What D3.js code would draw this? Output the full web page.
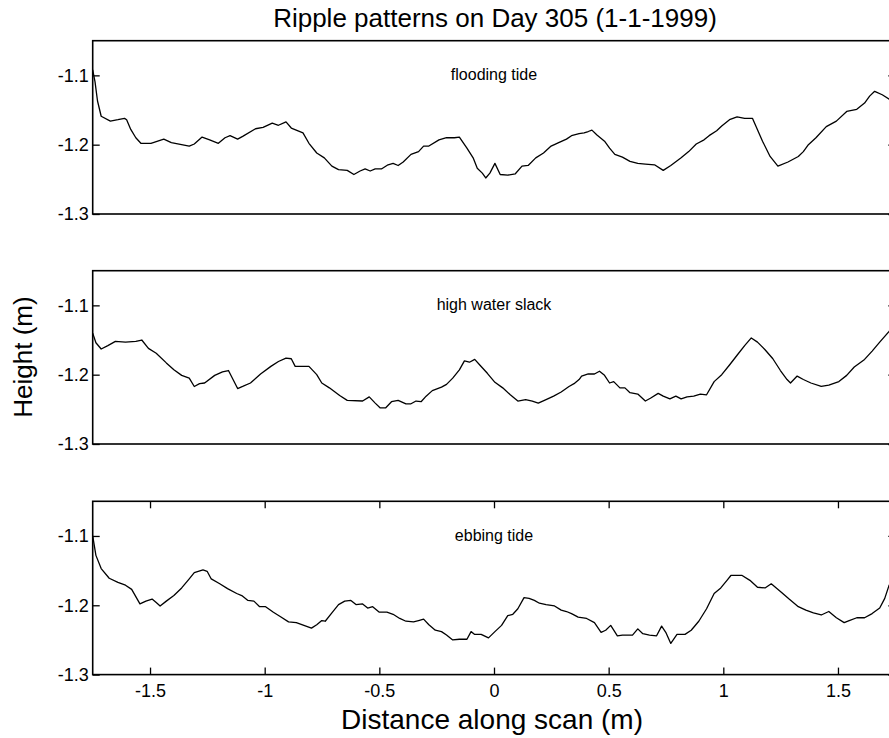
<!DOCTYPE html>
<html>
<head>
<meta charset="utf-8">
<script src="https://cdn.jsdelivr.net/npm/d3@7"></script>
<style>
  body { margin: 0; background: #fff; }
  svg { display: block; }
  text { font-family: "Liberation Sans", Arial, Helvetica, sans-serif; fill: #000; }
</style>
</head>
<body>
<div id="chart"></div>
<script>
// profile readings (distance in m, height in m)
var floodDist = [-1.75,-1.74,-1.729,-1.713,-1.673,-1.64,-1.611,-1.602,-1.584,-1.562,-1.54,-1.496,-1.44,-1.407,-1.329,-1.307,-1.273,-1.24,-1.202,-1.173,-1.151,-1.118,-1.096,-1.04,-1.007,-0.967,-0.94,-0.907,-0.884,-0.833,-0.807,-0.773,-0.74,-0.707,-0.678,-0.64,-0.611,-0.584,-0.562,-0.54,-0.518,-0.491,-0.462,-0.44,-0.418,-0.396,-0.362,-0.329,-0.307,-0.284,-0.24,-0.207,-0.173,-0.151,-0.118,-0.091,-0.073,-0.051,-0.036,-0.018,0.004,0.027,0.06,0.093,0.122,0.149,0.182,0.216,0.249,0.282,0.316,0.338,0.371,0.393,0.411,0.427,0.449,0.482,0.504,0.527,0.56,0.593,0.627,0.66,0.7,0.738,0.771,0.816,0.849,0.882,0.916,0.938,0.971,0.993,1.027,1.06,1.093,1.127,1.171,1.204,1.238,1.282,1.327,1.349,1.371,1.404,1.449,1.493,1.538,1.582,1.616,1.638,1.66,1.693,1.722,1.75];
var floodHeight = [-1.092,-1.109,-1.137,-1.159,-1.166,-1.164,-1.162,-1.164,-1.178,-1.19,-1.198,-1.198,-1.192,-1.197,-1.202,-1.199,-1.189,-1.193,-1.198,-1.19,-1.187,-1.192,-1.188,-1.177,-1.175,-1.169,-1.172,-1.167,-1.176,-1.183,-1.198,-1.212,-1.219,-1.231,-1.236,-1.237,-1.243,-1.238,-1.235,-1.238,-1.235,-1.235,-1.229,-1.227,-1.23,-1.225,-1.214,-1.21,-1.202,-1.202,-1.193,-1.19,-1.19,-1.189,-1.205,-1.219,-1.234,-1.241,-1.248,-1.241,-1.227,-1.243,-1.244,-1.242,-1.231,-1.23,-1.219,-1.212,-1.202,-1.197,-1.192,-1.187,-1.184,-1.183,-1.181,-1.179,-1.186,-1.195,-1.205,-1.214,-1.218,-1.224,-1.227,-1.228,-1.229,-1.237,-1.23,-1.219,-1.21,-1.199,-1.193,-1.187,-1.18,-1.173,-1.164,-1.16,-1.162,-1.162,-1.195,-1.217,-1.231,-1.225,-1.217,-1.21,-1.2,-1.19,-1.174,-1.166,-1.152,-1.149,-1.14,-1.13,-1.123,-1.128,-1.134,-1.142];

var slackDist = [-1.75,-1.736,-1.713,-1.684,-1.651,-1.607,-1.562,-1.536,-1.507,-1.473,-1.429,-1.396,-1.362,-1.329,-1.307,-1.284,-1.262,-1.218,-1.184,-1.158,-1.118,-1.096,-1.062,-1.018,-0.973,-0.94,-0.907,-0.884,-0.867,-0.807,-0.773,-0.751,-0.718,-0.673,-0.64,-0.573,-0.544,-0.518,-0.496,-0.473,-0.447,-0.418,-0.384,-0.362,-0.34,-0.318,-0.296,-0.269,-0.229,-0.207,-0.18,-0.151,-0.129,-0.107,-0.084,-0.062,-0.029,0.004,0.038,0.071,0.104,0.138,0.167,0.193,0.227,0.26,0.293,0.327,0.349,0.371,0.382,0.411,0.438,0.46,0.482,0.504,0.522,0.549,0.571,0.593,0.627,0.66,0.682,0.716,0.738,0.767,0.793,0.816,0.842,0.871,0.9,0.927,0.96,0.993,1.027,1.06,1.093,1.122,1.149,1.182,1.216,1.249,1.278,1.293,1.322,1.349,1.382,1.427,1.46,1.504,1.538,1.571,1.616,1.649,1.682,1.722,1.75];
var slackHeight = [-1.14,-1.154,-1.163,-1.158,-1.152,-1.153,-1.152,-1.15,-1.162,-1.169,-1.183,-1.193,-1.201,-1.205,-1.217,-1.213,-1.212,-1.201,-1.196,-1.194,-1.22,-1.217,-1.212,-1.199,-1.188,-1.181,-1.176,-1.177,-1.188,-1.188,-1.2,-1.212,-1.219,-1.23,-1.237,-1.238,-1.232,-1.241,-1.248,-1.248,-1.239,-1.237,-1.242,-1.242,-1.238,-1.239,-1.231,-1.223,-1.218,-1.214,-1.205,-1.193,-1.18,-1.182,-1.178,-1.186,-1.198,-1.211,-1.219,-1.229,-1.238,-1.236,-1.238,-1.241,-1.236,-1.231,-1.225,-1.217,-1.213,-1.207,-1.202,-1.199,-1.199,-1.195,-1.201,-1.212,-1.21,-1.219,-1.219,-1.226,-1.228,-1.238,-1.234,-1.227,-1.231,-1.235,-1.231,-1.235,-1.232,-1.231,-1.228,-1.229,-1.21,-1.2,-1.186,-1.172,-1.158,-1.147,-1.153,-1.164,-1.177,-1.194,-1.207,-1.212,-1.202,-1.207,-1.212,-1.217,-1.215,-1.21,-1.201,-1.189,-1.178,-1.166,-1.153,-1.138,-1.126];

var ebbDist = [-1.75,-1.736,-1.713,-1.678,-1.64,-1.607,-1.58,-1.544,-1.518,-1.491,-1.473,-1.456,-1.429,-1.396,-1.362,-1.329,-1.307,-1.269,-1.251,-1.233,-1.196,-1.162,-1.122,-1.1,-1.073,-1.047,-1.022,-0.996,-0.962,-0.929,-0.896,-0.862,-0.829,-0.796,-0.773,-0.751,-0.736,-0.707,-0.678,-0.651,-0.624,-0.602,-0.573,-0.551,-0.529,-0.5,-0.467,-0.44,-0.411,-0.384,-0.351,-0.329,-0.307,-0.284,-0.256,-0.229,-0.207,-0.18,-0.151,-0.118,-0.1,-0.084,-0.056,-0.024,0.004,0.033,0.06,0.082,0.104,0.131,0.153,0.176,0.198,0.227,0.264,0.293,0.316,0.338,0.367,0.404,0.438,0.467,0.487,0.509,0.538,0.56,0.604,0.627,0.649,0.678,0.709,0.731,0.749,0.771,0.798,0.833,0.86,0.893,0.927,0.96,0.989,1.016,1.033,1.082,1.116,1.149,1.182,1.209,1.249,1.287,1.327,1.36,1.393,1.427,1.46,1.493,1.527,1.549,1.582,1.616,1.649,1.682,1.704,1.722,1.75];
var ebbHeight = [-1.1,-1.128,-1.147,-1.161,-1.167,-1.171,-1.177,-1.198,-1.194,-1.191,-1.196,-1.201,-1.194,-1.186,-1.175,-1.162,-1.153,-1.149,-1.151,-1.162,-1.169,-1.176,-1.183,-1.186,-1.193,-1.194,-1.202,-1.202,-1.21,-1.217,-1.224,-1.225,-1.229,-1.233,-1.228,-1.222,-1.223,-1.211,-1.199,-1.194,-1.193,-1.199,-1.198,-1.204,-1.202,-1.21,-1.21,-1.213,-1.219,-1.223,-1.224,-1.222,-1.22,-1.228,-1.236,-1.238,-1.243,-1.25,-1.249,-1.249,-1.238,-1.242,-1.242,-1.247,-1.238,-1.229,-1.215,-1.213,-1.205,-1.189,-1.19,-1.193,-1.197,-1.199,-1.201,-1.207,-1.209,-1.212,-1.217,-1.219,-1.225,-1.239,-1.236,-1.229,-1.244,-1.243,-1.243,-1.234,-1.241,-1.243,-1.244,-1.23,-1.239,-1.255,-1.242,-1.242,-1.236,-1.223,-1.205,-1.183,-1.175,-1.164,-1.157,-1.157,-1.164,-1.174,-1.175,-1.169,-1.18,-1.191,-1.202,-1.207,-1.211,-1.214,-1.209,-1.218,-1.225,-1.222,-1.218,-1.218,-1.212,-1.204,-1.19,-1.172,-1.155];

var panelNames = ["flooding tide", "high water slack", "ebbing tide"];
var xTicks = [-1.5, -1, -0.5, 0, 0.5, 1, 1.5];
var yTicks = [-1.3, -1.2, -1.1];
var xDomain = [-1.75, 1.75];
var yDomain = [-1.3, -1.05];

var width = 889, height = 738;
var left = 92.7, right = 895.3;
var panelTops = [40.7, 270.7, 501.3];
var panelH = 173.3;
var tickLen = 7;

var svg = d3
  .select("#chart")
  .append("svg")
  .attr("width", width)
  .attr("height", height);

var x = d3.scaleLinear().domain(xDomain).range([left, right]);

var series = [
  d3.zip(floodDist, floodHeight),
  d3.zip(slackDist, slackHeight),
  d3.zip(ebbDist, ebbHeight),
];

series.forEach(function (pts, i) {
  var top = panelTops[i];
  var y = d3.scaleLinear().domain(yDomain).range([top + panelH, top]);
  var g = svg.append("g").attr("class", "panel");

  // the profile line
  var line = d3
    .line()
    .x(function (d) { return x(d[0]); })
    .y(function (d) { return y(d[1]); });
  g.append("path")
    .datum(pts)
    .attr("d", line)
    .attr("fill", "none")
    .attr("stroke", "#000")
    .attr("stroke-width", 1.3)
    .attr("stroke-linejoin", "round");

  // left axis with labels, ticks pointing inward
  var yl = g.append("g")
    .attr("transform", "translate(" + left + ",0)")
    .call(d3.axisLeft(y).tickValues(yTicks).tickSizeInner(-tickLen).tickSizeOuter(0).tickPadding(4)
      .tickFormat(function (d) { return String(d); }));
  yl.select(".domain").remove();
  yl.selectAll("text").style("font-size", "18px");

  // right axis, no labels
  var yr = g.append("g")
    .attr("transform", "translate(" + right + ",0)")
    .call(d3.axisRight(y).tickValues(yTicks).tickSizeInner(-tickLen).tickSizeOuter(0).tickFormat(""));
  yr.select(".domain").remove();

  if (i === 2) {
    var xb = g.append("g")
      .attr("transform", "translate(0," + (top + panelH) + ")")
      .call(d3.axisBottom(x).tickValues(xTicks).tickSizeInner(-tickLen).tickSizeOuter(0).tickPadding(10)
        .tickFormat(function (d) { return String(d); }));
    xb.select(".domain").remove();
    xb.selectAll("text").style("font-size", "18px");

    var xt = g.append("g")
      .attr("transform", "translate(0," + top + ")")
      .call(d3.axisTop(x).tickValues(xTicks).tickSizeInner(-tickLen).tickSizeOuter(0).tickFormat(""));
    xt.select(".domain").remove();
  }
  g.selectAll(".tick line").attr("stroke", "#000").attr("stroke-width", 1.3);

  // box around the panel
  g.append("rect")
    .attr("x", left)
    .attr("y", top)
    .attr("width", right - left)
    .attr("height", panelH)
    .attr("fill", "none")
    .attr("stroke", "#000")
    .attr("stroke-width", 1.6);

  // panel name
  g.append("text")
    .attr("x", x(0))
    .attr("y", y(-1.1) + 5)
    .attr("text-anchor", "middle")
    .style("font-size", "16px")
    .text(panelNames[i]);
});

// titles
svg.append("text")
  .attr("x", 495)
  .attr("y", 27)
  .attr("text-anchor", "middle")
  .style("font-size", "26px")
  .text("Ripple patterns on Day 305 (1-1-1999)");

svg.append("text")
  .attr("x", 492)
  .attr("y", 729)
  .attr("text-anchor", "middle")
  .style("font-size", "28px")
  .text("Distance along scan (m)");

svg.append("text")
  .attr("transform", "translate(32,357) rotate(-90)")
  .attr("text-anchor", "middle")
  .style("font-size", "26px")
  .text("Height (m)");
</script>
</body>
</html>
